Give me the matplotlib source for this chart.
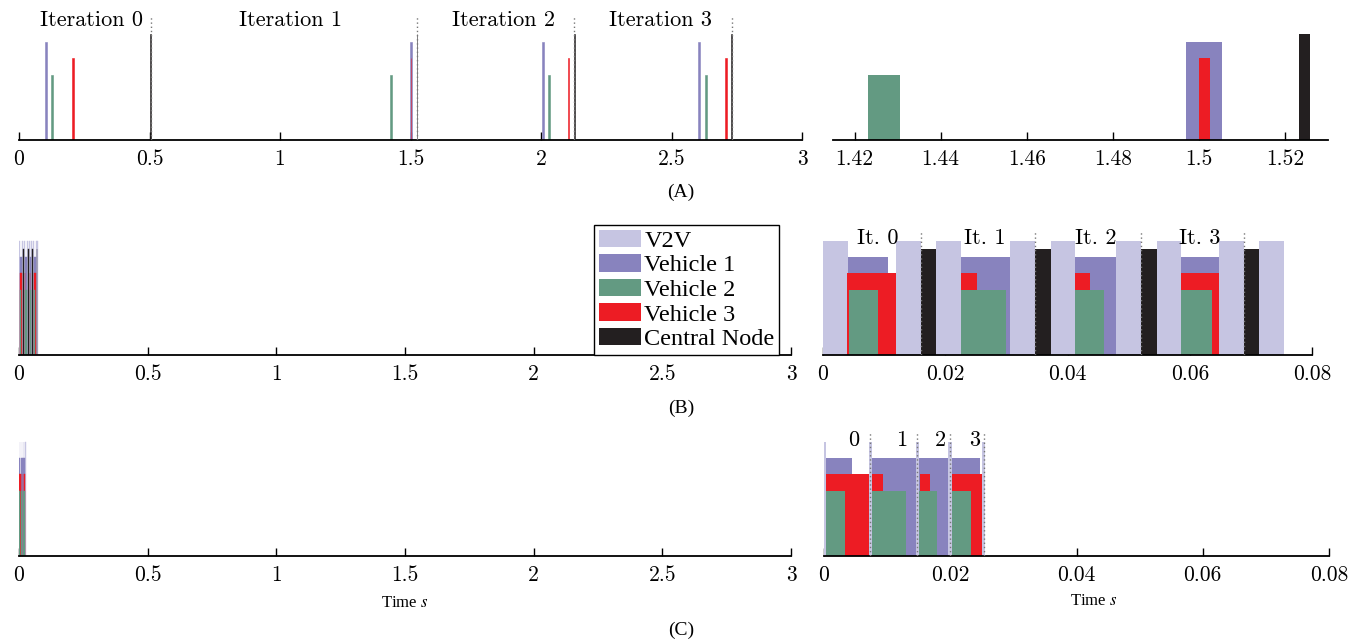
import matplotlib
matplotlib.use("Agg")
import matplotlib.pyplot as plt
from matplotlib.patches import Patch

# agents, colours and bar heights
agents = ["V2V", "Vehicle 1", "Vehicle 2", "Vehicle 3", "Central Node"]
colors = ["#c6c5e2", "#8883be", "#639a82", "#ed1c24", "#231f20"]
levels = [7.0, 6.0, 4.0, 5.0, 6.5]
draw_order = [0, 1, 3, 2, 4]

# (A) sequential scheme: (start, end) in seconds
A_v2v = []
A_v1 = [(0.100, 0.108), (1.497, 1.5053), (2.004, 2.012), (2.603, 2.611)]
A_v2 = [(0.124, 0.1315), (1.4231, 1.4306), (2.028, 2.0355), (2.629, 2.6365)]
A_v3 = [(0.203, 0.211), (1.5001, 1.5027), (2.103, 2.106), (2.706, 2.712)]
A_cn = [(0.503, 0.5055), (1.5233, 1.5258), (2.126, 2.1285), (2.729, 2.7315)]
A_sep = [0.504, 1.5233, 2.127, 2.730]
A_text = ["Iteration 0", "Iteration 1", "Iteration 2", "Iteration 3"]
A_text_x = [0.276, 1.041, 1.856, 2.458]

# (B)
B_v2v = [(0.0, 0.0041), (0.0120, 0.0161), (0.0185, 0.0226), (0.0306, 0.0347),
         (0.0373, 0.0413), (0.0480, 0.0521), (0.0546, 0.0586), (0.0648, 0.0688),
         (0.0713, 0.0754)]
B_v1 = [(0.0041, 0.0107), (0.0226, 0.0306), (0.0413, 0.0480), (0.0586, 0.0648)]
B_v2 = [(0.0042, 0.0090), (0.0226, 0.0300), (0.0412, 0.0460), (0.0586, 0.0636)]
B_v3 = [(0.0040, 0.0120), (0.0226, 0.0252), (0.0412, 0.0437), (0.0586, 0.0648)]
B_cn = [(0.0161, 0.0185), (0.0347, 0.0373), (0.0521, 0.0546), (0.0688, 0.0713)]
B_sep = [0.0161, 0.0347, 0.0521, 0.0688]
B_text = ["It. 0", "It. 1", "It. 2", "It. 3"]
B_text_x = [0.0090, 0.0264, 0.0446, 0.0617]

# (C)
C_v2v = [(0.0, 0.0003), (0.0072, 0.0076), (0.0146, 0.0150), (0.0197, 0.0202),
         (0.0251, 0.0255)]
C_v1 = [(0.0003, 0.0045), (0.0076, 0.0146), (0.0150, 0.0197), (0.0202, 0.0247)]
C_v2 = [(0.0003, 0.0033), (0.0076, 0.0130), (0.0150, 0.0179), (0.0202, 0.0233)]
C_v3 = [(0.0003, 0.0072), (0.0076, 0.0094), (0.0152, 0.0168), (0.0202, 0.0251)]
C_cn = []
C_sep = [0.0073, 0.0147, 0.0199, 0.0253]
C_text = ["0", "1", "2", "3"]
C_text_x = [0.0047, 0.0123, 0.0184, 0.0238]

full_ticks = [0, 0.5, 1, 1.5, 2, 2.5, 3]
full_labels = ["0", "0.5", "1", "1.5", "2", "2.5", "3"]
zoomA_ticks = [1.42, 1.44, 1.46, 1.48, 1.5, 1.52]
zoomA_labels = ["1.42", "1.44", "1.46", "1.48", "1.5", "1.52"]
zoom_ticks = [0, 0.02, 0.04, 0.06, 0.08]
zoom_labels = ["0", "0.02", "0.04", "0.06", "0.08"]

CM = "cmr10"
TIMES = "Liberation Serif"
plt.rcParams["mathtext.fontset"] = "stix"

W, H = 1349, 640
fig = plt.figure(figsize=(W / 100, H / 100), dpi=100)


def make_axes(x0, x1, base, height=124):
    return fig.add_axes([x0 / W, (H - base) / H, (x1 - x0) / W, height / H])


def style(ax, xlim, ticks, labels):
    ax.set_xlim(*xlim)
    ax.set_ylim(0, 7.6)
    for s in ["left", "right", "top"]:
        ax.spines[s].set_visible(False)
    ax.spines["bottom"].set_linewidth(1.3)
    ax.set_yticks([])
    ax.set_xticks(ticks)
    ax.set_xticklabels(labels, fontfamily=CM, fontsize=15.5)
    ax.tick_params(axis="x", direction="in", length=6, width=1, pad=7)


def draw(ax, series, edge=0.0):
    for k, i in enumerate(draw_order):
        iv = series[i]
        if not iv:
            continue
        starts = [a for a, b in iv]
        widths = [b - a for a, b in iv]
        ax.bar(starts, [levels[i]] * len(iv), width=widths, align="edge",
               color=colors[i], edgecolor=colors[i], linewidth=edge,
               zorder=2 + k * 0.1)


def separators(ax, xs, texts, tx, ty):
    for x in xs:
        ax.axvline(x, color="#777777", linestyle=(0, (1, 2)), linewidth=1, zorder=3)
    for t, x in zip(texts, tx):
        ax.text(x, ty, t, ha="center", va="center", fontfamily=CM, fontsize=16, zorder=4)


A = [A_v2v, A_v1, A_v2, A_v3, A_cn]
B = [B_v2v, B_v1, B_v2, B_v3, B_cn]
C = [C_v2v, C_v1, C_v2, C_v3, C_cn]

# row A
ax = make_axes(19, 802, 140)
draw(ax, A, edge=0.4)
separators(ax, A_sep, A_text, A_text_x, 7.36)
style(ax, (0, 3), full_ticks, full_labels)

ax = make_axes(833, 1328, 140)
draw(ax, A)
style(ax, (1.415, 1.53), zoomA_ticks, zoomA_labels)

# row B
ax = make_axes(19, 791, 355)
draw(ax, B, edge=0.3)
style(ax, (0, 3), full_ticks, full_labels)
handles = [Patch(facecolor=c, edgecolor="none") for c in colors]
leg = ax.legend(handles, agents, loc="upper right", bbox_to_anchor=(0.985, 1.05),
                borderaxespad=0, fancybox=False, edgecolor="black", framealpha=1,
                prop={"family": TIMES, "size": 17.5}, handlelength=1.7,
                handleheight=0.72, labelspacing=0.1, handletextpad=0.15,
                borderpad=0.2)
leg.get_frame().set_linewidth(1.0)
leg.set_zorder(10)

ax = make_axes(823, 1312, 355)
draw(ax, B)
separators(ax, B_sep, B_text, B_text_x, 7.16)
style(ax, (0, 0.08), zoom_ticks, zoom_labels)

# row C
ax = make_axes(19, 791, 556)
draw(ax, C, edge=0.3)
style(ax, (0, 3), full_ticks, full_labels)

ax = make_axes(824, 1329, 556)
draw(ax, C)
separators(ax, C_sep, C_text, C_text_x, 7.1)
style(ax, (0, 0.08), zoom_ticks, zoom_labels)

# panel labels
for lab, y in [("(A)", 192), ("(B)", 408), ("(C)", 630)]:
    fig.text(681 / W, 1 - y / H, lab, ha="center", va="center",
             fontfamily=TIMES, fontsize=14)
fig.text(405 / W, 1 - 603 / H, "Time $s$", ha="center", va="center",
         fontfamily=TIMES, fontsize=12)
fig.text(1094 / W, 1 - 601 / H, "Time $s$", ha="center", va="center",
         fontfamily=TIMES, fontsize=12)

fig.savefig("out.png", dpi=100)
